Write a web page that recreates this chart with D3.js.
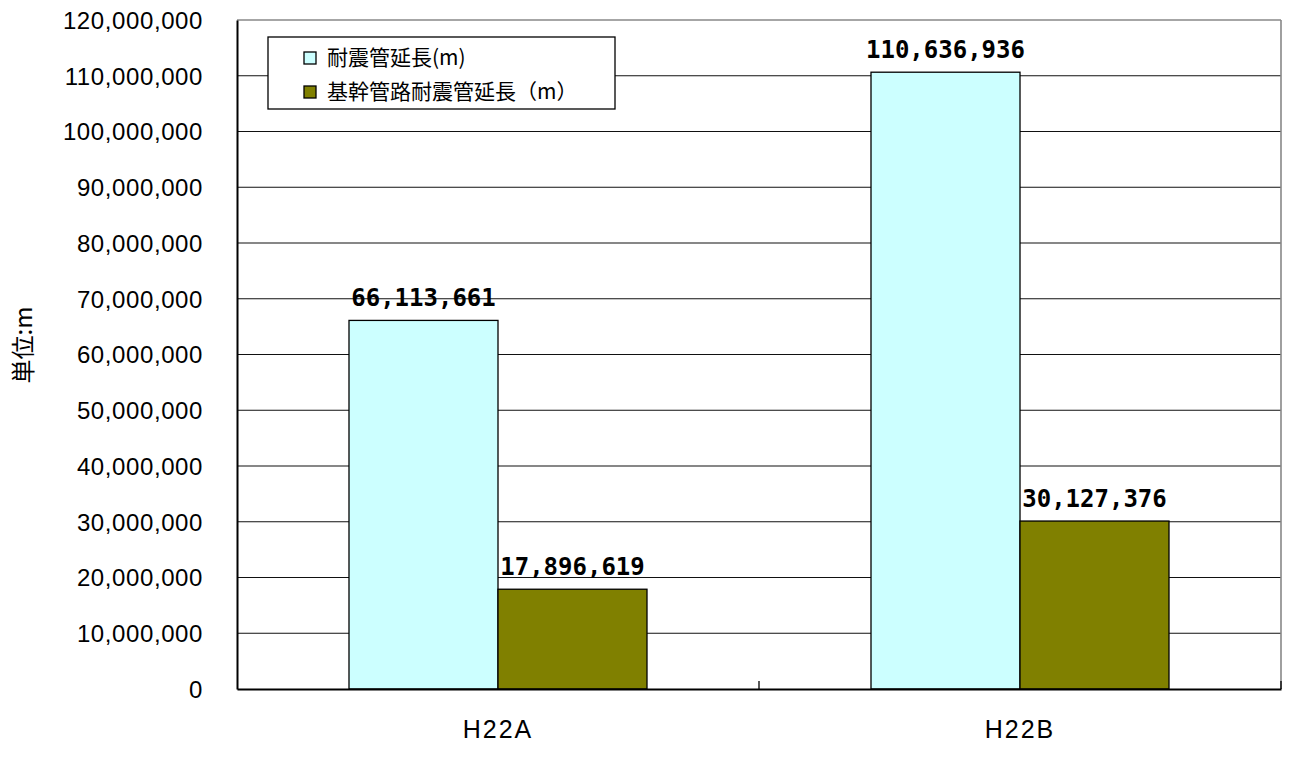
<!DOCTYPE html>
<html lang="ja">
<head>
<meta charset="UTF-8">
<title>耐震管延長</title>
<script src="https://d3js.org/d3.v7.min.js"></script>
<style>
  body { margin: 0; background: #fff; }
  text { font-family: "Liberation Sans", Arial, "Noto Sans CJK JP", sans-serif; fill: #000; }
  .val { font-family: "DejaVu Sans Mono", "Noto Sans CJK JP", monospace; font-weight: bold; }
</style>
</head>
<body>
<svg id="chart" width="1290" height="765"></svg>
<script>
// data
var categories = ["H22A", "H22B"];
var seriesNames = ["耐震管延長(m)", "基幹管路耐震管延長（m）"];
var seriesColors = ["#ccffff", "#808000"];
var quakeLength = [66113661, 110636936];
var mainLength = [17896619, 30127376];
var yTicks = [0, 10000000, 20000000, 30000000, 40000000, 50000000, 60000000,
              70000000, 80000000, 90000000, 100000000, 110000000, 120000000];

var margin = {top: 20, right: 9, bottom: 76, left: 237};
var width = 1290 - margin.left - margin.right,
    height = 765 - margin.top - margin.bottom;

var svg = d3.select("#chart");
var g = svg.append("g").attr("transform", "translate(" + margin.left + "," + margin.top + ")");

var x = d3.scaleBand().domain(categories).range([0, width]).paddingInner(0).paddingOuter(0);
var xs = d3.scaleBand().domain([0, 1]).range([112, x.bandwidth() - 112]);
var y = d3.scaleLinear().domain([0, 120000000]).range([height, 0]);
var fmt = d3.format(",");

// gridlines
g.selectAll(".grid").data(yTicks.slice(1, -1)).enter().append("line")
    .attr("x1", 0).attr("x2", width)
    .attr("y1", d => y(d)).attr("y2", d => y(d))
    .attr("stroke", "#111").attr("stroke-width", 1.2);

// top and right border
g.append("line").attr("x1", 0).attr("x2", width).attr("y1", 0).attr("y2", 0)
    .attr("stroke", "#888").attr("stroke-width", 1.6);
g.append("line").attr("x1", width).attr("x2", width).attr("y1", 0).attr("y2", height)
    .attr("stroke", "#888").attr("stroke-width", 1.6);

// bars
var rows = categories.map((c, i) => ({cat: c, vals: [quakeLength[i], mainLength[i]]}));
var grp = g.selectAll(".cat").data(rows).enter().append("g")
    .attr("transform", d => "translate(" + x(d.cat) + ",0)");
grp.selectAll("rect").data(d => d.vals.map((v, k) => ({v: v, k: k}))).enter().append("rect")
    .attr("x", d => xs(d.k)).attr("width", xs.bandwidth())
    .attr("y", d => y(d.v)).attr("height", d => height - y(d.v))
    .attr("fill", d => seriesColors[d.k])
    .attr("stroke", "#000").attr("stroke-width", 1.3);
grp.selectAll(".val").data(d => d.vals.map((v, k) => ({v: v, k: k}))).enter().append("text")
    .attr("class", "val")
    .attr("x", d => xs(d.k) + xs.bandwidth() / 2)
    .attr("y", d => y(d.v) - 14)
    .attr("text-anchor", "middle")
    .attr("font-size", 24)
    .text(d => fmt(d.v));

// y axis
var yAxis = g.append("g").call(d3.axisLeft(y).tickValues(yTicks).tickFormat(fmt).tickSize(0).tickPadding(34));
yAxis.select(".domain").attr("stroke", "#000").attr("stroke-width", 2);
yAxis.selectAll("text").attr("font-size", 24).attr("letter-spacing", 0.6)
    .style("font-family", "'Liberation Sans', Arial, sans-serif").attr("dy", "0.35em");

// x axis
var xAxis = g.append("g").attr("transform", "translate(0," + height + ")")
    .call(d3.axisBottom(x).tickSize(0).tickPadding(31));
xAxis.select(".domain").attr("stroke", "#000").attr("stroke-width", 2);
xAxis.selectAll("text").attr("font-size", 25).attr("letter-spacing", 2)
    .style("font-family", "'Liberation Sans', Arial, sans-serif");
// category separators
g.selectAll(".sep").data([x.step(), width]).enter().append("line")
    .attr("x1", d => d).attr("x2", d => d)
    .attr("y1", height).attr("y2", height - 8)
    .attr("stroke", "#000").attr("stroke-width", 1.3);

// y title
svg.append("text")
    .attr("transform", "translate(21,345) rotate(-90)")
    .attr("text-anchor", "middle")
    .attr("dominant-baseline", "central")
    .attr("font-size", 24)
    .style("font-family", "'Noto Sans CJK JP', sans-serif")
    .text("単位:m");

// legend
var lg = svg.append("g").attr("transform", "translate(268,37)");
lg.append("rect").attr("width", 347).attr("height", 72)
    .attr("fill", "#fff").attr("stroke", "#000").attr("stroke-width", 1.3);
seriesNames.forEach(function(name, i) {
    lg.append("rect").attr("x", 36).attr("y", 15 + i * 34).attr("width", 12).attr("height", 12)
        .attr("fill", seriesColors[i]).attr("stroke", "#000").attr("stroke-width", 1.3);
    lg.append("text").attr("x", 59).attr("y", 21 + i * 34).attr("dy", "0.35em")
        .attr("font-size", 21)
        .style("font-family", "'Noto Sans CJK JP', sans-serif")
        .text(name);
});
</script>
</body>
</html>
